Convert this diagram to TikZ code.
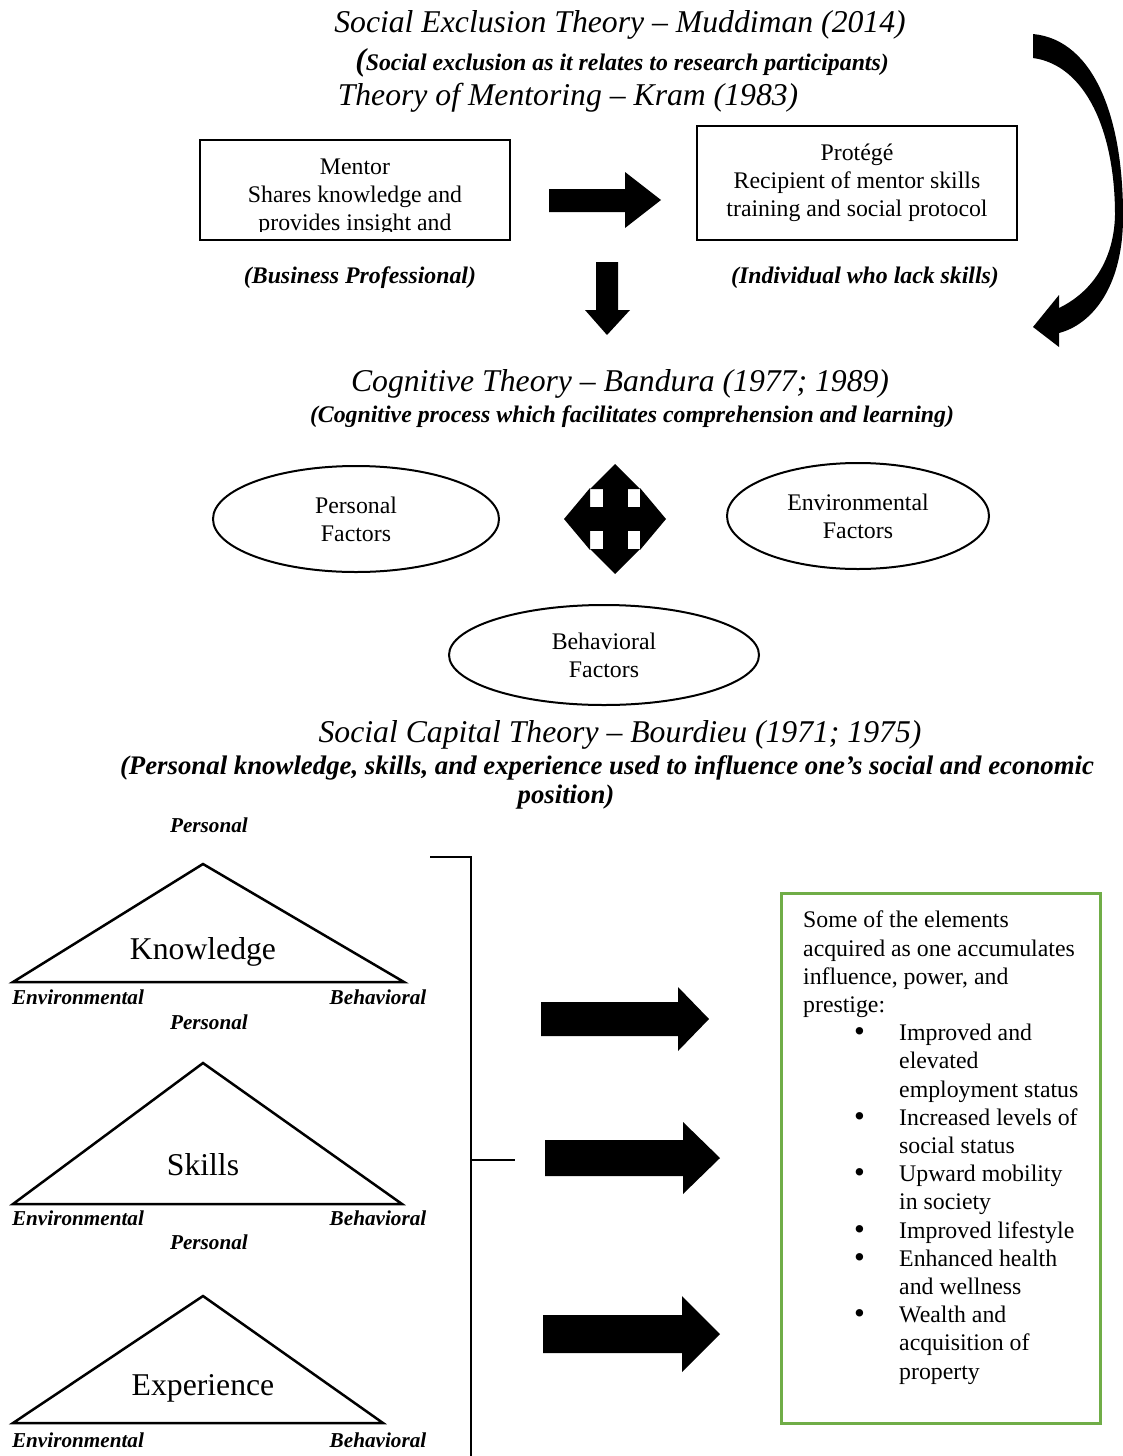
\documentclass[tikz,border=0pt]{standalone}
\usepackage{fontspec}
\usepackage{graphicx}
\setmainfont{Liberation Serif}
\usetikzlibrary{shapes.geometric}

\definecolor{boxgreen}{RGB}{112,173,71}
\newcommand\bodysize{\fontsize{23.8}{28.2}\selectfont}
\newcommand\titlesize{\fontsize{31.7}{37}\selectfont}
\newcommand\labsize{\fontsize{21.2}{25}\selectfont}
\newcommand\capsize{\fontsize{26.8}{30}\selectfont}
\newcommand\bul{\hspace*{51pt}\makebox[45pt][l]{\raisebox{-1pt}{\scalebox{1.3}{\textbullet}}}}
\newcommand\cont{\hspace*{96pt}}

\begin{document}
\begin{tikzpicture}[
    x=1pt,y=-1pt,
    title/.style={font=\titlesize\itshape,inner sep=0pt},
    sub/.style={font=\bodysize\bfseries\itshape,inner sep=0pt},
    capsub/.style={font=\capsize\bfseries\itshape,inner sep=0pt},
    txt/.style={font=\bodysize,align=center,inner sep=0pt},
    frame/.style={draw=black,line width=2pt},
    factor/.style={ellipse,draw=black,line width=2pt},
    corner/.style={font=\labsize\bfseries\itshape,inner sep=0pt},
    big/.style={font=\titlesize,inner sep=0pt},
    tri/.style={draw=black,line width=2.5pt,line join=miter},
    block/.style={fill=black},
]
    \useasboundingbox (0,0) rectangle (1123,1456);

    % mentoring
    \node[title] (exclusion) at (620,25) {Social Exclusion Theory – Muddiman (2014)};
    \node[sub] (exclusionsub) at (622,63) {{\titlesize(}Social exclusion as it relates to research participants)};
    \node[title] (mentoring) at (568,98) {Theory of Mentoring – Kram (1983)};

    \node[frame,minimum width=310pt,minimum height=100pt,inner sep=0pt] (mentor) at (355,190) {};
    \begin{scope}
        \clip (mentor.north west) rectangle ([yshift=10pt]mentor.south east);
        \node[txt] (mentortext) at (355,197) {Mentor\\Shares knowledge and\\provides insight and};
    \end{scope}
    \node[frame,txt,minimum width=320pt,minimum height=114pt] (protege) at (857,183)
        {Protégé\\Recipient of mentor skills\\training and social protocol};

    \node[sub] (business) at (360,278) {(Business Professional)};
    \node[sub] (individual) at (865,278) {(Individual who lack skills)};

    \fill[block] (549,189) -- (625,189) -- (625,172) -- (661,200) -- (625,228) -- (625,212) -- (549,212) -- cycle;
    \fill[block] (596,262) -- (618,262) -- (618,310) -- (630,310) -- (607,335) -- (585,310) -- (596,310) -- cycle;
    \fill[block] (1033,34) .. controls (1095,40) and (1124,120) .. (1123,220)
        .. controls (1122,290) and (1090,325) .. (1059,333) -- (1059,347) -- (1033,327) -- (1059,295) -- (1059,308)
        .. controls (1092,292) and (1114,260) .. (1115,215)
        .. controls (1115,130) and (1085,65) .. (1033,58) -- cycle;

    % cognitive theory
    \node[title] (cognitive) at (620,384) {Cognitive Theory – Bandura (1977; 1989)};
    \node[sub] (cognitivesub) at (632,417) {(Cognitive process which facilitates comprehension and learning)};

    \node[factor,txt,minimum width=286pt,minimum height=106pt] (personal) at (356,519) {Personal\\Factors};
    \node[factor,txt,minimum width=262pt,minimum height=106pt] (environmental) at (858,516) {Environmental\\Factors};
    \node[factor,txt,minimum width=310pt,minimum height=100pt] (behavioral) at (604,655) {Behavioral\\Factors};

    \begin{scope}[shift={(615,519)}]
        \foreach \s in {1,-1} {
            \fill[block] (0,-55*\s) -- (25,-30*\s) -- (-25,-30*\s) -- cycle;
            \fill[block] (-51*\s,0) -- (-25*\s,-31) -- (-25*\s,31) -- cycle;
        }
        \fill[block] (-12.5,-30) rectangle (12.5,30);
        \fill[block] (-25,-12) rectangle (25,12);
    \end{scope}

    % social capital
    \node[title] (capital) at (620,735) {Social Capital Theory – Bourdieu (1971; 1975)};
    \node[capsub] (capitalsub) at (607,768) {(Personal knowledge, skills, and experience used to influence one’s social and economic};
    \node[capsub] (position) at (566,797) {position)};

    \foreach \tag/\word/\top/\base/\right/\wordy/\pery/\laby in {
        know/Knowledge/864/982/404/952/825/997,
        skill/Skills/1063/1204/402/1165/1022/1218,
        exp/Experience/1296/1423/383/1388/1242/1440} {
        \draw[tri] (203,\top) -- (\right,\base) -- (13,\base) -- cycle;
        \node[big] (\tag) at (203,\wordy) {\word};
        \node[corner] (\tag-p) at (209,\pery) {Personal};
        \node[corner] (\tag-e) at (78,\laby) {Environmental};
        \node[corner] (\tag-b) at (378,\laby) {Behavioral};
    }

    \draw[line width=1.5pt] (430,857) -- (471,857) -- (471,1456);
    \draw[line width=1.5pt] (471,1160) -- (515,1160);

    \foreach \x/\h/\t/\y/\b/\w in {541/678/709/1019/17/32,545/683/720/1158/18/36,543/682/720/1334/19/38}
        \fill[block] (\x,\y-\b) -- (\h,\y-\b) -- (\h,\y-\w) -- (\t,\y) -- (\h,\y+\w) -- (\h,\y+\b) -- (\x,\y+\b) -- cycle;

    \node[draw=boxgreen,line width=3pt,minimum width=319pt,minimum height=530pt] (gains) at (940.5,1158) {};
    \node[font=\bodysize,align=left,inner sep=0pt,anchor=north west] (gainstext) at (803,911) {%
        Some of the elements\\
        acquired as one accumulates\\
        influence, power, and\\
        prestige:\\
        \bul Improved and\\
        \cont elevated\\
        \cont employment status\\
        \bul Increased levels of\\
        \cont social status\\
        \bul Upward mobility\\
        \cont in society\\
        \bul Improved lifestyle\\
        \bul Enhanced health\\
        \cont and wellness\\
        \bul Wealth and\\
        \cont acquisition of\\
        \cont property};
\end{tikzpicture}
\end{document}
